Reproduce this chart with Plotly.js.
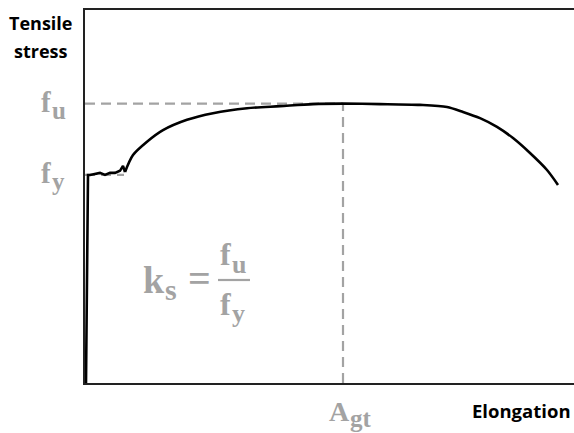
<!DOCTYPE html>
<html>
<head>
<meta charset="utf-8">
<script src="https://cdn.plot.ly/plotly-3.0.1.min.js"></script>
<style>html,body{margin:0;padding:0;background:#fff;}#chart{width:574px;height:433px;}</style>
</head>
<body>
<div id="chart"></div>
<script>
// Elongation (%) and tensile stress (MPa)
const elongation = [0.05, 0.15, 0.25, 0.5, 0.75, 1.0, 1.25, 1.5, 1.75, 1.9, 2.0, 2.4, 3.1, 3.9, 5.1, 6.4, 8.1, 9.75, 11.4, 12.9, 14.75, 16.75, 18.1, 18.9, 19.75, 20.6, 21.4, 22.25, 23.1, 23.65];
const stress =     [0, 502, 502, 504, 507, 502, 507, 507, 512, 524, 509, 550, 582, 610, 635, 651, 663, 668, 673, 674, 673, 671, 666, 654, 639, 618, 591, 555, 514, 478];
const yieldEnd = 10; // index where the yield plateau ends
const fy = 502;
const fu = 674;
const Agt = 12.9;

const labelColor = '#a3a3a3';
const serif = 'Liberation Serif, serif';
const sans = 'Open Sans, sans-serif';
const dashLine = {color: labelColor, width: 2.2, dash: '10px,6px'};

// plot-area geometry helpers (pixels -> paper)
const L = 85, T = 10, W = 489, H = 373;
const px = p => (p - L) / W;
const py = p => (T + H - p) / H;

const traces = [
  {x: [0, 1.95], y: [fy, fy], mode: 'lines', line: dashLine, hoverinfo: 'skip'},
  {x: [0, Agt], y: [fu, fu], mode: 'lines', line: dashLine, hoverinfo: 'skip'},
  {x: [Agt, Agt], y: [0, fu], mode: 'lines', line: dashLine, hoverinfo: 'skip'},
  {x: elongation.slice(0, yieldEnd + 1), y: stress.slice(0, yieldEnd + 1), mode: 'lines',
   line: {color: '#000', width: 2.6}, hoverinfo: 'skip'},
  {x: elongation.slice(yieldEnd), y: stress.slice(yieldEnd), mode: 'lines',
   line: {color: '#000', width: 2.6, shape: 'spline', smoothing: 0.8}, hoverinfo: 'skip'}
];

function lab(text, opts, size) {
  return Object.assign({text: '<b>' + text + '</b>', showarrow: false,
    font: {family: serif, size: size, color: labelColor}, yanchor: 'middle'}, opts);
}

const annotations = [
  {xref: 'paper', yref: 'paper', x: px(40.5), y: py(23), text: '<b>Tensile</b>', showarrow: false,
   font: {family: sans, size: 18, color: '#000'}, xanchor: 'center', yanchor: 'middle'},
  {xref: 'paper', yref: 'paper', x: px(40.5), y: py(51), text: '<b>stress</b>', showarrow: false,
   font: {family: sans, size: 18, color: '#000'}, xanchor: 'center', yanchor: 'middle'},
  {xref: 'paper', yref: 'paper', x: px(521), y: py(410), text: '<b>Elongation</b>', showarrow: false,
   font: {family: sans, size: 18.5, color: '#000'}, xanchor: 'center', yanchor: 'middle'},
  // f_u
  lab('f', {xref: 'paper', yref: 'y', x: px(53), y: fu, yshift: 1.5, xanchor: 'right'}, 29),
  lab('u', {xref: 'paper', yref: 'y', x: px(50), y: fu, yshift: -7, xanchor: 'left'}, 25),
  // f_y
  lab('f', {xref: 'paper', yref: 'y', x: px(53), y: fy, yshift: 1.5, xanchor: 'right'}, 29),
  lab('y', {xref: 'paper', yref: 'y', x: px(50), y: fy, yshift: -7, xanchor: 'left'}, 25),
  // A_gt
  lab('A', {xref: 'x', yref: 'paper', x: Agt, xshift: 9, y: py(411), xanchor: 'right'}, 28),
  lab('gt', {xref: 'x', yref: 'paper', x: Agt, xshift: 5, y: py(418.5), xanchor: 'left'}, 25),
  // k_s = f_u / f_y
  lab('k', {xref: 'paper', yref: 'paper', x: px(141), y: py(280.2), xanchor: 'left'}, 38),
  lab('s', {xref: 'paper', yref: 'paper', x: px(163), y: py(289), xanchor: 'left'}, 30),
  lab('=', {xref: 'paper', yref: 'paper', x: px(199), y: py(278.5), xanchor: 'center'}, 40),
  lab('f', {xref: 'paper', yref: 'paper', x: px(233), y: py(254.2), xanchor: 'right'}, 32),
  lab('u', {xref: 'paper', yref: 'paper', x: px(230), y: py(264.5), xanchor: 'left'}, 26),
  lab('f', {xref: 'paper', yref: 'paper', x: px(233), y: py(304.2), xanchor: 'right'}, 32),
  lab('y', {xref: 'paper', yref: 'paper', x: px(230), y: py(313.5), xanchor: 'left'}, 26)
];

const layout = {
  width: 574, height: 433,
  margin: {l: L, r: 574 - L - W, t: T, b: 433 - T - H},
  paper_bgcolor: '#fff', plot_bgcolor: '#fff',
  showlegend: false,
  xaxis: {range: [0, 24.45], showgrid: false, zeroline: false, showticklabels: false, ticks: '',
          showline: true, linecolor: '#222', linewidth: 2, mirror: true},
  yaxis: {range: [0, 900], showgrid: false, zeroline: false, showticklabels: false, ticks: '',
          showline: true, linecolor: '#222', linewidth: 2, mirror: false},
  annotations: annotations,
  shapes: [
    {type: 'line', xref: 'paper', yref: 'paper', x0: px(218), x1: px(250), y0: py(280), y1: py(280),
     line: {color: labelColor, width: 2.2}}
  ]
};

Plotly.newPlot('chart', traces, layout, {displayModeBar: false, staticPlot: true});
</script>
</body>
</html>
